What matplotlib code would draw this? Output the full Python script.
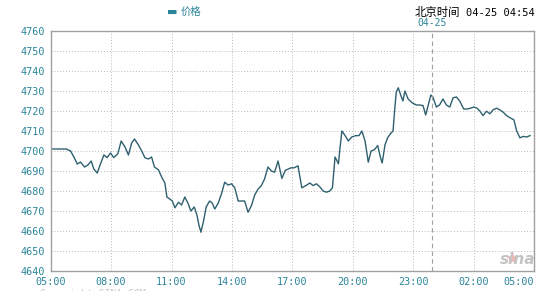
import numpy as np
import matplotlib.pyplot as plt

# hours since 05:00 (04-24) and price
hours = [0, 0.77, 0.99, 1.15, 1.32, 1.48, 1.68, 1.85, 2.01, 2.14, 2.31, 2.47, 2.64, 2.80,
         2.97, 3.13, 3.33, 3.5, 3.69, 3.86, 4.02, 4.16, 4.36, 4.52, 4.68, 4.85, 5.01, 5.15,
         5.35, 5.51, 5.67, 5.77, 5.91, 6.04, 6.17, 6.34, 6.5, 6.66, 6.83, 6.96, 7.13, 7.26,
         7.36, 7.46, 7.59, 7.72, 7.89, 8.02, 8.15, 8.32, 8.48, 8.64, 8.81, 8.98, 9.14, 9.31,
         9.47, 9.63, 9.8, 9.97, 10.13, 10.3, 10.46, 10.62, 10.79, 10.96, 11.12, 11.29, 11.48,
         11.65, 11.93, 12.09, 12.28, 12.47, 12.67, 12.87, 13.03, 13.2, 13.37, 13.53, 13.69,
         13.86, 13.99, 14.12, 14.22, 14.29, 14.36, 14.46, 14.62, 14.78, 14.95, 15.15, 15.31,
         15.45, 15.61, 15.77, 15.91, 16.07, 16.24, 16.37, 16.46, 16.6, 16.73, 16.9, 17.0,
         17.09, 17.16, 17.26, 17.39, 17.49, 17.59, 17.75, 17.96, 18.16, 18.32, 18.49, 18.62,
         18.75, 18.88, 18.98, 19.15, 19.31, 19.48, 19.65, 19.82, 19.98, 20.15, 20.31, 20.51,
         20.68, 20.84, 21.01, 21.17, 21.31, 21.47, 21.64, 21.81, 21.97, 22.14, 22.3, 22.47,
         22.64, 22.81, 23.0, 23.14, 23.3, 23.47, 23.64, 23.8]
prices = [4701, 4701, 4700, 4697, 4693.5, 4694.5, 4692, 4693, 4695, 4691, 4689, 4693.5, 4698,
          4696.7, 4699, 4696.7, 4698.6, 4705, 4702, 4698, 4704, 4706, 4703, 4700, 4696.6, 4696,
          4697, 4692, 4690.6, 4687, 4684, 4677, 4676, 4675, 4671.6, 4674.4, 4673, 4677, 4673.6,
          4670, 4672, 4668, 4663, 4659.4, 4665, 4672, 4675, 4674, 4671, 4674, 4678.6, 4684.4,
          4683, 4683.6, 4681.6, 4675, 4675, 4675, 4669.4, 4672.7, 4678, 4681, 4682.7, 4686,
          4692, 4690, 4689.4, 4695, 4686.3, 4690.3, 4691.6, 4691.6, 4692.6, 4681.6, 4682.7,
          4684, 4682.7, 4683.6, 4682, 4680, 4679.4, 4680, 4681.6, 4697, 4695, 4693.6, 4701,
          4710, 4707.7, 4705, 4707, 4707.7, 4707.7, 4710, 4705, 4694.4, 4700, 4700.6, 4702.7,
          4697, 4694, 4703, 4706.6, 4709, 4710, 4721.6, 4729.4, 4731.6, 4727.7, 4725, 4730,
          4726, 4724, 4723, 4723, 4722.7, 4718, 4723, 4728, 4727, 4722, 4723, 4726, 4723, 4722,
          4726.6, 4727, 4725, 4721, 4721, 4721.4, 4722, 4721.4, 4720, 4717.7, 4719.9, 4718.6,
          4720.6, 4721.4, 4720.6, 4719.4, 4717.7, 4716.6, 4715.6, 4710, 4706.6, 4707.3, 4707,
          4707.7]

x_ticks = [0, 3, 6, 9, 12, 15, 18, 21, 24]
x_labels = ['05:00', '08:00', '11:00', '14:00', '17:00', '20:00', '23:00', '02:00', '05:00']
y_ticks = list(range(4640, 4761, 10))
day_break = 18.93  # date change marker (04-25)

W, H = 540, 291
teal = '#2b8599'
line_color = '#2f6070'
mono = 'DejaVu Sans Mono'
cjk = ['Noto Sans CJK SC', 'DejaVu Sans']

fig = plt.figure(figsize=(W / 100, H / 100), dpi=100)
ax = fig.add_axes([50.7 / W, 1 - 271 / H, (534 - 50.7) / W, (271 - 31) / H])

ax.plot(hours, prices, color=line_color, linewidth=1.0)

ax.set_xlim(0, 24)
ax.set_ylim(4640, 4760)
ax.set_xticks(x_ticks)
ax.set_xticklabels(x_labels)
ax.set_yticks(y_ticks)
ax.grid(True, linestyle=(0, (1, 2)), color='#b8b8b8', linewidth=0.7)
ax.axvline(day_break, color='#a0a0a0', linestyle=(0, (4, 3)), linewidth=0.8)

for s in ax.spines.values():
    s.set_color('#a0a0a0')
    s.set_linewidth(1.0)
ax.tick_params(length=0, labelsize=7.3, labelcolor=teal, pad=4)
for lab in ax.get_xticklabels() + ax.get_yticklabels():
    lab.set_family(mono)
ax.get_xticklabels()[-1].set_horizontalalignment('right')

# header: legend entry, clock, date marker
fig.text(167 / W, 1 - 12 / H, '▬', color=teal, fontsize=8, va='center', ha='left')
fig.text(181 / W, 1 - 12 / H, '价格', color=teal, fontsize=7.5, family=cjk,
         va='center', ha='left')
fig.text(415 / W, 1 - 12 / H, '北京时间', color='black', fontsize=8.2, family=cjk,
         va='center', ha='left')
fig.text(535 / W, 1 - 12.5 / H, '04-25 04:54', color='black', fontsize=7.5, family=mono,
         va='center', ha='right')
fig.text(417 / W, 1 - 23 / H, '04-25', color=teal, fontsize=7, family=mono,
         va='center', ha='left')

# watermark and cut-off copyright line
ax.scatter([22.9], [4646.5], marker='*', s=60, color='#f2b8b8', zorder=1)
fig.text(518 / W, 1 - 260 / H, 'sina', color='#c4c4c4', fontsize=11, style='italic',
         weight='bold', va='center', ha='center')
fig.text(40 / W, 1 - 289 / H, 'Copyright SINA.COM', color='#c8c8c8', fontsize=7,
         family=mono, va='top', ha='left')

fig.savefig('out.png', dpi=100)
